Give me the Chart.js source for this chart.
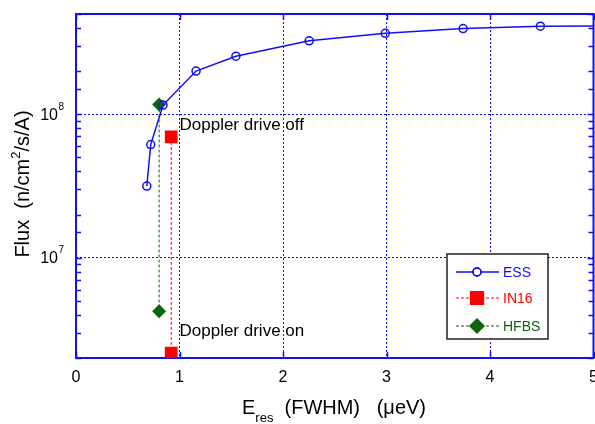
<!DOCTYPE html>
<html>
<head>
<meta charset="utf-8">
<script src="https://cdn.jsdelivr.net/npm/chart.js@4.4.1/dist/chart.umd.min.js"></script>
<style>
    html, body { margin: 0; padding: 0; background: #fff; }
    #wrap { width: 595px; height: 424px; }
</style>
</head>
<body>
<div id="wrap"><canvas id="fluxChart" width="595" height="424"></canvas></div>
<script>
// values
const essRes = [0.684, 0.722, 0.841, 1.16, 1.545, 2.253, 2.988, 3.74, 4.487, 5.3];
const essFlux = [3.16e7, 6.15e7, 1.16e8, 2.0e8, 2.54e8, 3.25e8, 3.67e8, 3.96e8, 4.11e8, 4.13e8];
const in16Res = [0.92, 0.92];
const in16Flux = [6.95e7, 2.16e6];
const hfbsRes = [0.803, 0.803];
const hfbsFlux = [1.17e8, 4.24e6];
const xTicks = [0, 1, 2, 3, 4, 5];
const yDecades = [7, 8];
const notes = [
    { x: 1.0, y: 8.4e7, text: 'Doppler drive off' },
    { x: 1.0, y: 3.06e6, text: 'Doppler drive on' }
];

const BLUE = '#1010f5';
const RED = '#ff0000';
const GREEN = '#0f650f';
const FONT = 'Arial, "Liberation Sans", Helvetica, sans-serif';

const toPoints = (xs, ys) => xs.map((x, i) => ({ x, y: ys[i] }));

const isDecade = (v) => Math.abs(Math.log10(v) - Math.round(Math.log10(v))) < 1e-9;

// frame, inward ticks, tick labels, axis titles, notes and legend
const decorations = {
    id: 'decorations',
    beforeDatasetsDraw(chart) {
        const { ctx, chartArea: a } = chart;
        const ys = chart.scales.y;
        const xs = chart.scales.x;
        ctx.save();
        ctx.strokeStyle = BLUE;
        ctx.lineWidth = 1.5;
        ys.ticks.forEach(t => {
            const py = Math.round(ys.getPixelForValue(t.value)) + 0.5;
            const len = isDecade(t.value) ? 6 : 5;
            ctx.beginPath();
            ctx.moveTo(a.left, py); ctx.lineTo(a.left + len, py);
            ctx.moveTo(a.right, py); ctx.lineTo(a.right - len, py);
            ctx.stroke();
        });
        xs.ticks.forEach(t => {
            const px = Math.round(xs.getPixelForValue(t.value)) + 0.5;
            ctx.beginPath();
            ctx.moveTo(px, a.bottom); ctx.lineTo(px, a.bottom - 6);
            ctx.moveTo(px, a.top); ctx.lineTo(px, a.top + 6);
            ctx.stroke();
        });
        ctx.lineWidth = 2;
        ctx.strokeRect(a.left, a.top, a.right - a.left, a.bottom - a.top);
        ctx.restore();
    },
    afterDraw(chart) {
        const { ctx, chartArea: a } = chart;
        const ys = chart.scales.y;
        const xs = chart.scales.x;
        ctx.save();
        ctx.fillStyle = '#000';

        // x tick labels
        ctx.font = '16px ' + FONT;
        ctx.textAlign = 'center';
        ctx.textBaseline = 'middle';
        xTicks.forEach(v => {
            ctx.fillText(String(v), xs.getPixelForValue(v), a.bottom + 20);
        });

        // y tick labels 10^n
        yDecades.forEach(e => {
            const py = ys.getPixelForValue(Math.pow(10, e));
            ctx.font = '16px ' + FONT;
            ctx.textAlign = 'right';
            ctx.textBaseline = 'middle';
            ctx.fillText('10', 58, py + 1);
            ctx.font = '10px ' + FONT;
            ctx.textAlign = 'left';
            ctx.fillText(String(e), 58.5, py - 7);
        });

        // x title with subscript
        ctx.textBaseline = 'alphabetic';
        ctx.textAlign = 'left';
        let cx = 242;
        ctx.font = '20px ' + FONT;
        ctx.fillText('E', cx, 414);
        cx += ctx.measureText('E').width;
        ctx.font = '13px ' + FONT;
        ctx.fillText('res', cx, 422);
        cx += ctx.measureText('res').width;
        ctx.font = '20px ' + FONT;
        ctx.fillText('  (FWHM)   (\u03BCeV)', cx, 414);

        // y title with superscript
        ctx.save();
        ctx.translate(29, 184);
        ctx.rotate(-Math.PI / 2);
        const parts = [
            { t: 'Flux  (n/cm', f: 20, dy: 0 },
            { t: '2', f: 13, dy: -9 },
            { t: '/s/A)', f: 20, dy: 0 }
        ];
        let total = 0;
        parts.forEach(p => { ctx.font = p.f + 'px ' + FONT; p.w = ctx.measureText(p.t).width; total += p.w; });
        let tx = -total / 2;
        parts.forEach(p => {
            ctx.font = p.f + 'px ' + FONT;
            ctx.fillText(p.t, tx, p.dy);
            tx += p.w;
        });
        ctx.restore();

        // notes
        ctx.font = '17px ' + FONT;
        ctx.textBaseline = 'middle';
        notes.forEach(n => {
            ctx.fillText(n.text, xs.getPixelForValue(n.x), ys.getPixelForValue(n.y));
        });

        // legend
        const box = { l: 447, t: 254, r: 548, b: 339 };
        ctx.fillStyle = '#fff';
        ctx.fillRect(box.l, box.t, box.r - box.l, box.b - box.t);
        ctx.strokeStyle = '#222';
        ctx.lineWidth = 1.5;
        ctx.strokeRect(box.l, box.t, box.r - box.l, box.b - box.t);
        const rows = [272, 298, 326];
        chart.data.datasets.forEach((ds, i) => {
            const ly = rows[i];
            ctx.strokeStyle = ds.borderColor;
            ctx.lineWidth = ds.borderWidth;
            ctx.setLineDash(ds.borderDash || []);
            ctx.beginPath();
            ctx.moveTo(456, ly); ctx.lineTo(499, ly);
            ctx.stroke();
            ctx.setLineDash([]);
            Chart.helpers.drawPoint(ctx, {
                pointStyle: ds.pointStyle,
                radius: ds.legendRadius,
                borderWidth: ds.pointBorderWidth || 1.5,
                rotation: 0
            }, 477, ly);
            ctx.fillStyle = ds.pointBackgroundColor;
            ctx.strokeStyle = ds.borderColor;
            if (ds.pointBackgroundColor !== 'transparent') ctx.fill();
            ctx.lineWidth = 1.5;
            ctx.stroke();
            ctx.fillStyle = ds.borderColor;
            ctx.font = '14px ' + FONT;
            ctx.textAlign = 'left';
            ctx.textBaseline = 'middle';
            ctx.fillText(ds.label, 503, ly + 1);
        });
        ctx.restore();
    }
};

new Chart(document.getElementById('fluxChart'), {
    type: 'scatter',
    data: {
        datasets: [
            {
                label: 'ESS',
                data: toPoints(essRes, essFlux),
                showLine: true,
                borderColor: BLUE,
                borderWidth: 1.5,
                pointStyle: 'circle',
                pointRadius: 4,
                legendRadius: 4,
                pointBorderWidth: 1.5,
                pointBackgroundColor: 'transparent',
                pointBorderColor: BLUE
            },
            {
                label: 'IN16',
                data: toPoints(in16Res, in16Flux),
                showLine: true,
                borderColor: RED,
                borderWidth: 1,
                borderDash: [3, 2],
                pointStyle: 'rect',
                pointRadius: 9,
                legendRadius: 9,
                pointBorderWidth: 0,
                pointBackgroundColor: RED,
                pointBorderColor: RED
            },
            {
                label: 'HFBS',
                data: toPoints(hfbsRes, hfbsFlux),
                showLine: true,
                borderColor: GREEN,
                borderWidth: 1,
                borderDash: [3, 2],
                pointStyle: 'rectRot',
                pointRadius: 7,
                legendRadius: 7,
                pointBorderWidth: 0,
                pointBackgroundColor: GREEN,
                pointBorderColor: GREEN
            }
        ]
    },
    options: {
        responsive: false,
        animation: false,
        layout: { autoPadding: false, padding: { top: 14, right: 1.5, left: 0, bottom: 0 } },
        plugins: {
            legend: { display: false },
            tooltip: { enabled: false }
        },
        scales: {
            x: {
                type: 'linear',
                min: 0,
                max: 5,
                afterBuildTicks: (scale) => { scale.ticks = xTicks.map(v => ({ value: v })); },
                afterFit: (scale) => {
                    scale.height = 66;
                    scale.paddingLeft = 0;
                    scale.paddingRight = 0;
                },
                ticks: { display: false },
                grid: {
                    drawTicks: false,
                    lineWidth: 1,
                    color: (ctx) => (ctx.tick && ctx.tick.value > 0 && ctx.tick.value < 5) ? BLUE : 'transparent'
                },
                border: { display: false, dash: [2, 2] }
            },
            y: {
                type: 'logarithmic',
                min: 2e6,
                max: 5e8,
                afterFit: (scale) => {
                    scale.width = 76;
                    scale.paddingTop = 0;
                    scale.paddingBottom = 0;
                },
                ticks: { display: false },
                grid: {
                    drawTicks: false,
                    lineWidth: 1,
                    color: (ctx) => (ctx.tick && isDecade(ctx.tick.value)) ? BLUE : 'transparent'
                },
                border: { display: false, dash: [2, 2] }
            }
        }
    },
    plugins: [decorations]
});
</script>
</body>
</html>
